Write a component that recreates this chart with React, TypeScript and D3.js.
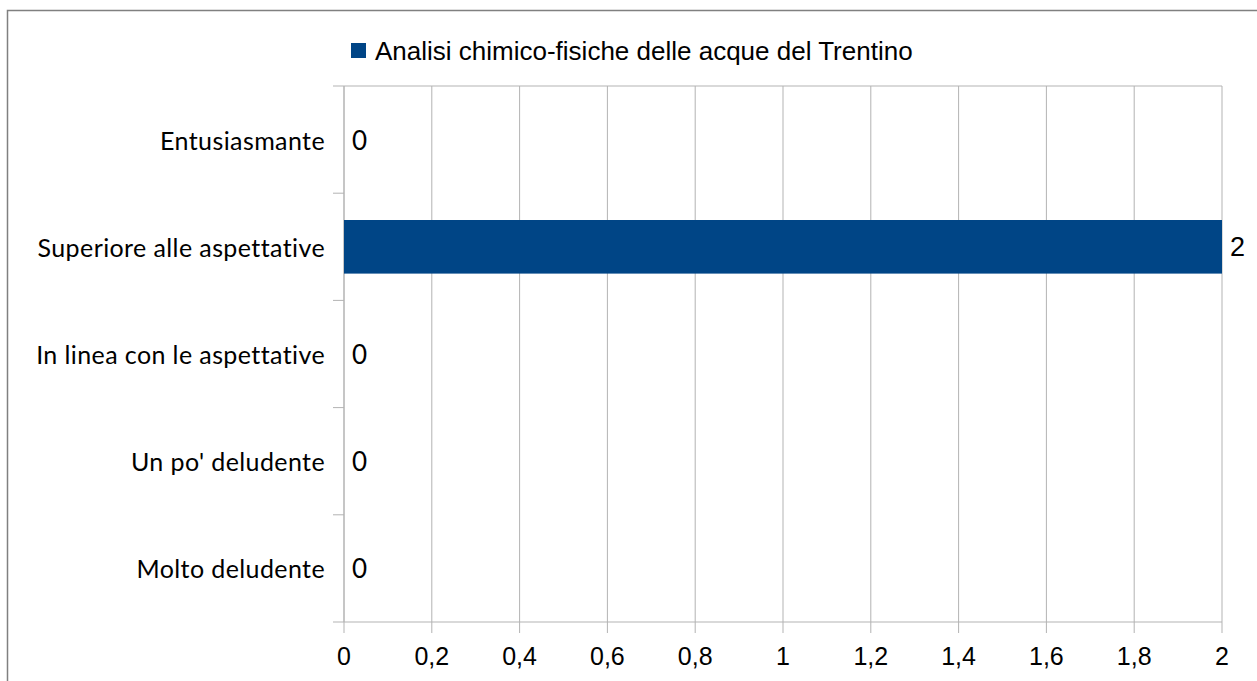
import React from "react";
import * as d3 from "d3";

const categories = [
  "Entusiasmante",
  "Superiore alle aspettative",
  "In linea con le aspettative",
  "Un po' deludente",
  "Molto deludente",
];
const values = [0, 2, 0, 0, 0];
const xTicks = [0, 0.2, 0.4, 0.6, 0.8, 1, 1.2, 1.4, 1.6, 1.8, 2];
const seriesName = "Analisi chimico-fisiche delle acque del Trentino";

const W = 1257;
const H = 681;
const plot = { left: 344, right: 1222, top: 86, bottom: 622 };

export default function App() {
  const x = d3.scaleLinear().domain([0, 2]).range([plot.left, plot.right]);
  const y = d3
    .scaleBand<string>()
    .domain(categories)
    .range([plot.top, plot.bottom])
    .paddingInner(0.5)
    .paddingOuter(0.25);
  const bandStep = (plot.bottom - plot.top) / categories.length;
  const fmt = (v: number) => String(v).replace(".", ",");
  const catFont = "Lato, 'Open Sans', sans-serif";
  const numFont = "'Liberation Sans', Arial, sans-serif";
  const blue = "#004586";
  const grid = "#b3b3b3";

  return (
    <svg
      width={W}
      height={H}
      style={{ position: "absolute", left: 0, top: 0, background: "#fff" }}
    >
      <rect x={7.5} y={10.5} width={W + 20} height={H + 20} fill="#fff" stroke="#808080" strokeWidth={1.5} />
      {xTicks.map((t) => (
        <line key={"g" + t} x1={x(t)} x2={x(t)} y1={plot.top} y2={plot.bottom} stroke={grid} strokeWidth={1} />
      ))}
      <line x1={plot.left} x2={plot.right} y1={plot.top} y2={plot.top} stroke={grid} />
      <line x1={plot.left} x2={plot.right} y1={plot.bottom} y2={plot.bottom} stroke={grid} />
      {xTicks.map((t) => (
        <line key={"t" + t} x1={x(t)} x2={x(t)} y1={plot.bottom} y2={plot.bottom + 11} stroke={grid} />
      ))}
      <line x1={plot.left} x2={plot.left} y1={plot.top} y2={plot.bottom} stroke={grid} />
      {d3.range(categories.length + 1).map((i) => (
        <line
          key={"yt" + i}
          x1={plot.left - 11}
          x2={plot.left}
          y1={plot.top + i * bandStep}
          y2={plot.top + i * bandStep}
          stroke={grid}
        />
      ))}
      {categories.map((c, i) => (
        <rect
          key={"b" + c}
          x={x(0)}
          y={y(c)!}
          width={x(values[i]) - x(0)}
          height={y.bandwidth()}
          fill={blue}
        />
      ))}
      {categories.map((c) => (
        <text
          key={"c" + c}
          x={plot.left - 19}
          y={y(c)! + y.bandwidth() / 2}
          textAnchor="end"
          dominantBaseline="central"
          fontFamily={catFont}
          fontSize={25}
          letterSpacing={0.4}
          fill="#000"
        >
          {c}
        </text>
      ))}
      {categories.map((c, i) => (
        <text
          key={"v" + c}
          x={x(values[i]) + 8}
          y={y(c)! + y.bandwidth() / 2}
          dominantBaseline="central"
          fontFamily={values[i] === 0 ? catFont : numFont}
          fontSize={values[i] === 0 ? 26 : 27}
          fill="#000"
        >
          {values[i]}
        </text>
      ))}
      {xTicks.map((t) => (
        <text
          key={"xl" + t}
          x={x(t)}
          y={656}
          textAnchor="middle"
          dominantBaseline="central"
          fontFamily={numFont}
          fontSize={25}
          fill="#000"
        >
          {fmt(t)}
        </text>
      ))}
      <rect x={351} y={43} width={15} height={15} fill={blue} />
      <text x={375} y={51} dominantBaseline="central" fontFamily={numFont} fontSize={26} fill="#000">
        {seriesName}
      </text>
    </svg>
  );
}
